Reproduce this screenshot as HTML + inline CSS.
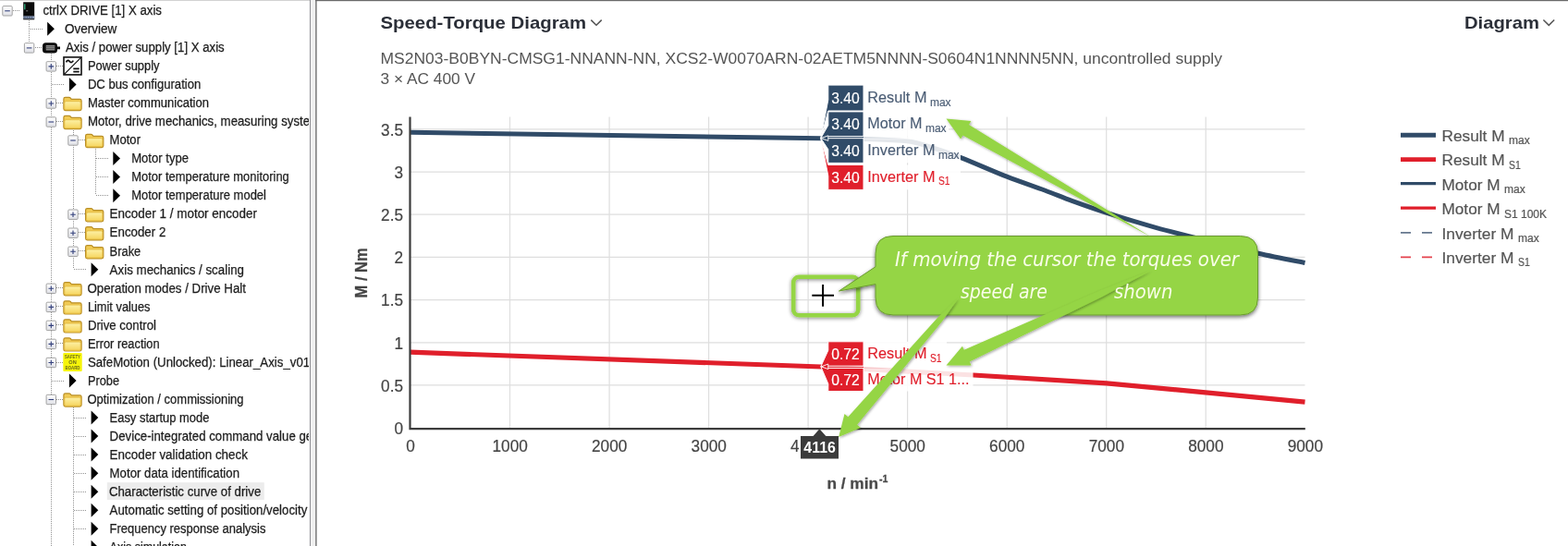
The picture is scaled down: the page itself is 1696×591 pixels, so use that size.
<!DOCTYPE html>
<html lang="en"><head><meta charset="utf-8"><title>Speed-Torque Diagram</title>
<style>
html,body{margin:0;padding:0;background:#fff}
body{width:1696px;height:591px;overflow:hidden;position:relative;font-family:"Liberation Sans",sans-serif}
svg{position:absolute;left:0;top:0;display:block}
text{font-family:"Liberation Sans",sans-serif}
.tr{font-size:14px;fill:#1c1c1c;stroke:#1c1c1c;stroke-width:.25px}
.dot{stroke:#939393;stroke-width:1;stroke-dasharray:1 1;fill:none;shape-rendering:crispEdges}
.tk{font-size:18.1px;fill:#444;stroke:#444;stroke-width:.2px}
.lg{font-size:17px;fill:#555;stroke:#555;stroke-width:.2px}
.sub,.lg.sub{font-size:12px}
.hw{font-family:"DejaVu Sans","Liberation Sans",sans-serif;font-style:italic;font-size:20.5px;fill:#f9fde8}
</style></head>
<body>
<svg width="1696" height="591" viewBox="0 0 1696 591">
<defs>
<linearGradient id="bx" x1="0" y1="0" x2="0" y2="1"><stop offset="0" stop-color="#fff"/><stop offset="1" stop-color="#dfe0e6"/></linearGradient>
<linearGradient id="fo" x1="0" y1="0" x2="0" y2="1"><stop offset="0" stop-color="#fdf1a6"/><stop offset="1" stop-color="#f6d55e"/></linearGradient>
<g id="plus"><rect x="-5.2" y="-5.2" width="10.4" height="10.4" rx="1" fill="url(#bx)" stroke="#a2a2a2" stroke-width="1"/><path d="M-2.8 0H2.8M0 -2.8V2.8" stroke="#33407c" stroke-width="1.1"/></g>
<g id="minus"><rect x="-5.2" y="-5.2" width="10.4" height="10.4" rx="1" fill="url(#bx)" stroke="#a2a2a2" stroke-width="1"/><path d="M-2.8 0H2.8" stroke="#33407c" stroke-width="1.1"/></g>
<path id="arw" d="M-3.8 -7.5L3.9 0L-3.8 7.5Z" fill="#000"/>
<g id="fold"><path d="M-9.6 -3.6V-5Q-9.6 -6.6 -7.8 -6.6H-4Q-2.7 -6.6 -2 -5.7L-1.3 -4.6H7.8Q9.6 -4.6 9.6 -2.9V5.8Q9.6 7.6 7.8 7.6H-7.8Q-9.6 7.6 -9.6 5.8Z" fill="#f1cb55" stroke="#b98e24" stroke-width="1.2"/><path d="M-8.7 -0.8Q-8.7 -2.3 -7.2 -2.3H7.2Q8.7 -2.3 8.7 -0.8V5.3Q8.7 6.8 7.2 6.8H-7.2Q-8.7 6.8 -8.7 5.3Z" fill="url(#fo)" stroke="#e2b93f" stroke-width="0.8"/></g>
<clipPath id="tclip"><rect x="0" y="0" width="334" height="591"/></clipPath>
<clipPath id="pclip"><rect x="440" y="120" width="973" height="346"/></clipPath>
<filter id="sh3" x="-20%" y="-30%" width="140%" height="160%"><feGaussianBlur in="SourceAlpha" stdDeviation="2.2"/><feOffset dx="0" dy="0.6"/><feComponentTransfer><feFuncA type="linear" slope="0.5"/></feComponentTransfer><feMerge><feMergeNode/><feMergeNode in="SourceGraphic"/></feMerge></filter>
<filter id="sh2" x="-20%" y="-20%" width="140%" height="150%"><feGaussianBlur in="SourceAlpha" stdDeviation="1.6"/><feOffset dx="0.5" dy="1.2"/><feComponentTransfer><feFuncA type="linear" slope="0.38"/></feComponentTransfer><feMerge><feMergeNode/><feMergeNode in="SourceGraphic"/></feMerge></filter>
<filter id="sh" x="-20%" y="-20%" width="140%" height="150%"><feGaussianBlur in="SourceAlpha" stdDeviation="2"/><feOffset dx="0" dy="1.5"/><feComponentTransfer><feFuncA type="linear" slope="0.55"/></feComponentTransfer><feMerge><feMergeNode/><feMergeNode in="SourceGraphic"/></feMerge></filter>
</defs>

<g id="tree" clip-path="url(#tclip)">
<path class="dot" d="M31.5 22V46"/>
<path class="dot" d="M55.5 58V591"/>
<path class="dot" d="M79.5 141V291"/>
<path class="dot" d="M103.5 161V211"/>
<path class="dot" d="M79.5 441V591"/>
<path class="dot" d="M14 11.3H21"/>
<path class="dot" d="M32.6 31.3H45.6"/>
<path class="dot" d="M37.6 51.4H44.6"/>
<path class="dot" d="M61.3 71.4H68.3"/>
<path class="dot" d="M56.3 91.4H69.3"/>
<path class="dot" d="M61.3 111.5H68.3"/>
<path class="dot" d="M61.3 131.5H68.3"/>
<path class="dot" d="M85 151.5H92"/>
<path class="dot" d="M103.7 171.6H116.7"/>
<path class="dot" d="M103.7 191.6H116.7"/>
<path class="dot" d="M103.7 211.7H116.7"/>
<path class="dot" d="M85 231.7H92"/>
<path class="dot" d="M85 251.7H92"/>
<path class="dot" d="M85 271.8H92"/>
<path class="dot" d="M80 291.8H93"/>
<path class="dot" d="M61.3 311.8H68.3"/>
<path class="dot" d="M61.3 331.9H68.3"/>
<path class="dot" d="M61.3 351.9H68.3"/>
<path class="dot" d="M61.3 371.9H68.3"/>
<path class="dot" d="M61.3 392.0H68.3"/>
<path class="dot" d="M56.3 412.0H69.3"/>
<path class="dot" d="M61.3 432.0H68.3"/>
<path class="dot" d="M80 452.1H93"/>
<path class="dot" d="M80 472.1H93"/>
<path class="dot" d="M80 492.1H93"/>
<path class="dot" d="M80 512.2H93"/>
<path class="dot" d="M80 532.2H93"/>
<path class="dot" d="M80 552.2H93"/>
<path class="dot" d="M80 572.3H93"/>
<path class="dot" d="M80 592.3H93"/>
<rect x="115.8" y="522.2" width="170" height="18.8" fill="#ececec"/>
<use href="#minus" x="8.0" y="11.8"/>
<g transform="translate(25.2,2.3000000000000007)"><rect x="0" y="0" width="12" height="19" fill="#0b0b0b"/><rect x="1" y="2" width="1.2" height="6" fill="#35c08a"/><rect x="3" y="9" width="2" height="1" fill="#8a8a8a"/><rect x="0" y="15" width="12" height="3" fill="#8c9bb5"/><path d="M1 16.5H11" stroke="#2a3a60" stroke-width="1" stroke-dasharray="1.5 1"/></g>
<text class="tr" x="46.4" y="16.0" textLength="128.6" lengthAdjust="spacingAndGlyphs">ctrlX DRIVE [1] X axis</text>
<use href="#arw" x="55.0" y="31.3"/>
<text class="tr" x="69.9" y="36.0" textLength="56.4" lengthAdjust="spacingAndGlyphs">Overview</text>
<use href="#minus" x="31.6" y="51.9"/>
<g transform="translate(55.3,51.9)"><rect x="-9.3" y="-5.7" width="16" height="11.4" rx="3.6" fill="#0a0a0a"/><rect x="-5.6" y="-3" width="9.6" height="5.6" fill="#8c8c8c"/><path d="M-5.6 -1.2H4M-5.6 0.7H4" stroke="#4a4a4a" stroke-width="0.8"/><rect x="6.5" y="-1.4" width="3.2" height="2.8" fill="#0a0a0a"/></g>
<text class="tr" x="70.9" y="56.1" textLength="171.8" lengthAdjust="spacingAndGlyphs">Axis / power supply [1] X axis</text>
<use href="#plus" x="55.3" y="71.9"/>
<g transform="translate(78.5,71.4)"><rect x="-9.5" y="-9.5" width="19" height="19" fill="#fff" stroke="#111" stroke-width="1.6"/><path d="M-9 9L9 -9" stroke="#111" stroke-width="1.3"/><path d="M-7 -4Q-5.2 -7.6 -3.2 -5T0.8 -5.8" stroke="#111" stroke-width="1.7" fill="none"/><path d="M0.8 3H7.2M0.8 6.2H7.2" stroke="#111" stroke-width="1.9"/></g>
<text class="tr" x="94.9" y="76.1" textLength="77.7" lengthAdjust="spacingAndGlyphs">Power supply</text>
<use href="#arw" x="78.7" y="91.4"/>
<text class="tr" x="94.9" y="96.1" textLength="122.4" lengthAdjust="spacingAndGlyphs">DC bus configuration</text>
<use href="#plus" x="55.3" y="112.0"/>
<use href="#fold" x="78.5" y="112.0"/>
<text class="tr" x="94.9" y="116.2" textLength="131.1" lengthAdjust="spacingAndGlyphs">Master communication</text>
<use href="#minus" x="55.3" y="132.0"/>
<use href="#fold" x="78.5" y="132.0"/>
<text class="tr" x="94.9" y="136.2" transform="translate(95.5 0) scale(0.948 1) translate(-95.5 0)">Motor, drive mechanics, measuring systems</text>
<use href="#minus" x="79.0" y="152.0"/>
<use href="#fold" x="102.2" y="152.0"/>
<text class="tr" x="118.6" y="156.2" textLength="33.4" lengthAdjust="spacingAndGlyphs">Motor</text>
<use href="#arw" x="126.1" y="171.6"/>
<text class="tr" x="142.2" y="176.3" textLength="61.8" lengthAdjust="spacingAndGlyphs">Motor type</text>
<use href="#arw" x="126.1" y="191.6"/>
<text class="tr" x="142.2" y="196.3" textLength="170.6" lengthAdjust="spacingAndGlyphs">Motor temperature monitoring</text>
<use href="#arw" x="126.1" y="211.7"/>
<text class="tr" x="142.2" y="216.3" textLength="145.8" lengthAdjust="spacingAndGlyphs">Motor temperature model</text>
<use href="#plus" x="79.0" y="232.2"/>
<use href="#fold" x="102.2" y="232.2"/>
<text class="tr" x="118.6" y="236.4" textLength="159.4" lengthAdjust="spacingAndGlyphs">Encoder 1 / motor encoder</text>
<use href="#plus" x="79.0" y="252.2"/>
<use href="#fold" x="102.2" y="252.2"/>
<text class="tr" x="118.6" y="256.4" textLength="60.7" lengthAdjust="spacingAndGlyphs">Encoder 2</text>
<use href="#plus" x="79.0" y="272.3"/>
<use href="#fold" x="102.2" y="272.3"/>
<text class="tr" x="118.6" y="276.5" textLength="33.7" lengthAdjust="spacingAndGlyphs">Brake</text>
<use href="#arw" x="102.4" y="291.8"/>
<text class="tr" x="118.6" y="296.5" textLength="145.4" lengthAdjust="spacingAndGlyphs">Axis mechanics / scaling</text>
<use href="#plus" x="55.3" y="312.3"/>
<use href="#fold" x="78.5" y="312.3"/>
<text class="tr" x="94.4" y="316.5" textLength="171.6" lengthAdjust="spacingAndGlyphs">Operation modes / Drive Halt</text>
<use href="#plus" x="55.3" y="332.4"/>
<use href="#fold" x="78.5" y="332.4"/>
<text class="tr" x="94.9" y="336.6" textLength="67.6" lengthAdjust="spacingAndGlyphs">Limit values</text>
<use href="#plus" x="55.3" y="352.4"/>
<use href="#fold" x="78.5" y="352.4"/>
<text class="tr" x="94.9" y="356.6" textLength="74.1" lengthAdjust="spacingAndGlyphs">Drive control</text>
<use href="#plus" x="55.3" y="372.4"/>
<use href="#fold" x="78.5" y="372.4"/>
<text class="tr" x="94.9" y="376.6" textLength="77.7" lengthAdjust="spacingAndGlyphs">Error reaction</text>
<use href="#plus" x="55.3" y="392.5"/>
<g transform="translate(78.5,392.0)"><rect x="-10.2" y="-10" width="20.4" height="20" rx="1" fill="#f6f50a"/><text x="0" y="-3.8" text-anchor="middle" font-size="5.6" font-weight="bold" fill="#6b6b1a" textLength="17" lengthAdjust="spacingAndGlyphs">SAFETY</text><text x="0" y="2" text-anchor="middle" font-size="5.6" font-weight="bold" fill="#6b6b1a">ON</text><text x="0" y="8" text-anchor="middle" font-size="5.6" font-weight="bold" fill="#6b6b1a" textLength="16" lengthAdjust="spacingAndGlyphs">BOARD</text></g>
<text class="tr" x="94.9" y="396.7" textLength="240.3" lengthAdjust="spacingAndGlyphs">SafeMotion (Unlocked): Linear_Axis_v01</text>
<use href="#arw" x="78.7" y="412.0"/>
<text class="tr" x="94.9" y="416.7" textLength="34.1" lengthAdjust="spacingAndGlyphs">Probe</text>
<use href="#minus" x="55.3" y="432.5"/>
<use href="#fold" x="78.5" y="432.5"/>
<text class="tr" x="94.4" y="436.7" textLength="169.2" lengthAdjust="spacingAndGlyphs">Optimization / commissioning</text>
<use href="#arw" x="102.4" y="452.1"/>
<text class="tr" x="118.6" y="456.8" textLength="107.8" lengthAdjust="spacingAndGlyphs">Easy startup mode</text>
<use href="#arw" x="102.4" y="472.1"/>
<text class="tr" x="118.6" y="476.8" transform="translate(119.2 0) scale(0.948 1) translate(-119.2 0)">Device-integrated command value generator</text>
<use href="#arw" x="102.4" y="492.1"/>
<text class="tr" x="118.6" y="496.8" textLength="149.4" lengthAdjust="spacingAndGlyphs">Encoder validation check</text>
<use href="#arw" x="102.4" y="512.2"/>
<text class="tr" x="118.6" y="516.9" textLength="140.4" lengthAdjust="spacingAndGlyphs">Motor data identification</text>
<use href="#arw" x="102.4" y="532.2"/>
<text class="tr" x="117.9" y="536.9" textLength="164.4" lengthAdjust="spacingAndGlyphs">Characteristic curve of drive</text>
<use href="#arw" x="102.4" y="552.2"/>
<text class="tr" x="118.6" y="556.9" transform="translate(119.2 0) scale(0.948 1) translate(-119.2 0)">Automatic setting of position/velocity control</text>
<use href="#arw" x="102.4" y="572.3"/>
<text class="tr" x="118.6" y="577.0" textLength="168.8" lengthAdjust="spacingAndGlyphs">Frequency response analysis</text>
<use href="#arw" x="102.4" y="592.3"/>
<text class="tr" x="118.6" y="597.0" textLength="83.4" lengthAdjust="spacingAndGlyphs">Axis simulation</text>
</g>
<rect x="0" y="0" width="335" height="1" fill="#d2d2d2"/>
<rect x="335" y="0" width="1" height="591" fill="#8e8e93"/>
<rect x="336" y="0" width="5" height="591" fill="#f0f0f0"/>
<rect x="341.2" y="0" width="1.4" height="591" fill="#6e6e6e"/>
<rect x="341" y="0" width="1355" height="1.2" fill="#6a6a6a"/>
<g id="chart">
<text x="411.5" y="31.4" font-size="18.5" font-weight="bold" fill="#2b2f38" textLength="222.5" lengthAdjust="spacingAndGlyphs">Speed-Torque Diagram</text>
<path d="M639.3 21.6L645 27.3L650.7 21.6" fill="none" stroke="#555" stroke-width="1.5"/>
<text x="1584" y="31.2" font-size="18.5" font-weight="bold" fill="#2b2f38" textLength="81" lengthAdjust="spacingAndGlyphs">Diagram</text>
<path d="M1669.4 21.5L1675.3 27.4L1681.2 21.5" fill="none" stroke="#555" stroke-width="1.5"/>
<text x="411.5" y="68.7" font-size="17.2" fill="#555" textLength="910.5" lengthAdjust="spacingAndGlyphs">MS2N03-B0BYN-CMSG1-NNANN-NN, XCS2-W0070ARN-02AETM5NNNN-S0604N1NNNN5NN, uncontrolled supply</text>
<text x="411.5" y="91" font-size="17.2" fill="#555" textLength="102.5" lengthAdjust="spacingAndGlyphs">3 × AC 400 V</text>
<path d="M551.5 126.5V463.5M659.1 126.5V463.5M766.6 126.5V463.5M874.1 126.5V463.5M981.6 126.5V463.5M1089.2 126.5V463.5M1196.7 126.5V463.5M1304.2 126.5V463.5M443.5 416.9H1411.5M443.5 370.8H1411.5M443.5 324.6H1411.5M443.5 278.4H1411.5M443.5 232.2H1411.5M443.5 186.1H1411.5M443.5 139.9H1411.5" stroke="#dedede" stroke-width="1.2" fill="none"/>
<text class="tk" x="426.4" y="469.8" textLength="9.6" lengthAdjust="spacingAndGlyphs">0</text>
<text class="tk" x="412.1" y="423.6" textLength="23.9" lengthAdjust="spacingAndGlyphs">0.5</text>
<text class="tk" x="426.4" y="377.5" textLength="9.6" lengthAdjust="spacingAndGlyphs">1</text>
<text class="tk" x="412.1" y="331.3" textLength="23.9" lengthAdjust="spacingAndGlyphs">1.5</text>
<text class="tk" x="426.4" y="285.1" textLength="9.6" lengthAdjust="spacingAndGlyphs">2</text>
<text class="tk" x="412.1" y="238.9" textLength="23.9" lengthAdjust="spacingAndGlyphs">2.5</text>
<text class="tk" x="426.4" y="192.8" textLength="9.6" lengthAdjust="spacingAndGlyphs">3</text>
<text class="tk" x="412.1" y="146.6" textLength="23.9" lengthAdjust="spacingAndGlyphs">3.5</text>
<text class="tk" x="439.3" y="488.8" textLength="9.6" lengthAdjust="spacingAndGlyphs">0</text>
<text class="tk" x="532.5" y="488.8" textLength="38.3" lengthAdjust="spacingAndGlyphs">1000</text>
<text class="tk" x="640.0" y="488.8" textLength="38.3" lengthAdjust="spacingAndGlyphs">2000</text>
<text class="tk" x="747.6" y="488.8" textLength="38.3" lengthAdjust="spacingAndGlyphs">3000</text>
<text class="tk" x="855.1" y="488.8" textLength="38.3" lengthAdjust="spacingAndGlyphs">4000</text>
<text class="tk" x="962.6" y="488.8" textLength="38.3" lengthAdjust="spacingAndGlyphs">5000</text>
<text class="tk" x="1070.1" y="488.8" textLength="38.3" lengthAdjust="spacingAndGlyphs">6000</text>
<text class="tk" x="1177.7" y="488.8" textLength="38.3" lengthAdjust="spacingAndGlyphs">7000</text>
<text class="tk" x="1285.2" y="488.8" textLength="38.3" lengthAdjust="spacingAndGlyphs">8000</text>
<text class="tk" x="1392.7" y="488.8" textLength="38.3" lengthAdjust="spacingAndGlyphs">9000</text>
<text transform="translate(397.2 322.4) rotate(-90)" font-size="17.5" font-weight="bold" fill="#444" stroke="#444" stroke-width="0.3" textLength="54" lengthAdjust="spacingAndGlyphs">M / Nm</text>
<text x="894.4" y="528.6" font-size="17" font-weight="bold" fill="#4a4a4a" stroke="#4a4a4a" stroke-width="0.3" textLength="55.6" lengthAdjust="spacingAndGlyphs">n / min</text>
<text x="950.9" y="522" font-size="11" font-weight="bold" fill="#4a4a4a" stroke="#4a4a4a" stroke-width="0.3" textLength="9.4" lengthAdjust="spacingAndGlyphs">-1</text>
<path d="M443.5 381.2L888 397L1052.8 406L1197 414.8L1304 424.8L1411.5 435.2" fill="none" stroke="#e01f2b" stroke-width="5.2"/>
<path d="M443.5 143.3L888 149.7C895.7 149.8 918.5 149.9 934.0 150.4C949.5 150.9 968.3 151.2 981.0 152.8C993.7 154.5 1000.2 157.3 1010.0 160.3C1019.8 163.3 1026.8 165.7 1040.0 170.8C1053.2 176.0 1074.0 185.3 1089.0 191.2C1104.0 197.1 1118.2 201.6 1130.0 206.0C1141.8 210.4 1148.8 213.5 1160.0 217.6C1171.2 221.7 1181.8 225.6 1197.0 230.4C1212.2 235.2 1233.2 241.6 1251.0 246.6C1268.8 251.6 1285.7 255.6 1304.0 260.2C1322.3 264.8 1343.1 270.1 1361.0 274.2C1378.9 278.2 1403.1 282.8 1411.5 284.5" fill="none" stroke="#304b68" stroke-width="5"/>
<path d="M443.5 126.5V465.3M442.4 464.2H1411.8" fill="none" stroke="#3c3c3c" stroke-width="2.2"/>
<path d="M1515 146.3H1553" stroke="#304b68" stroke-width="5" fill="none"/>
<text class="lg" x="1559.5" y="152.6" textLength="68.0" lengthAdjust="spacingAndGlyphs">Result M</text>
<text class="lg sub" x="1632.0" y="156.1">max</text>
<path d="M1515 172.6H1553" stroke="#e01f2b" stroke-width="4.8" fill="none"/>
<text class="lg" x="1559.5" y="179.0" textLength="68.0" lengthAdjust="spacingAndGlyphs">Result M</text>
<text class="lg sub" x="1632.0" y="182.5" textLength="12.8" lengthAdjust="spacingAndGlyphs">S1</text>
<path d="M1515 198.6H1553" stroke="#304b68" stroke-width="3.2" fill="none"/>
<text class="lg" x="1559.5" y="205.6" textLength="63.0" lengthAdjust="spacingAndGlyphs">Motor M</text>
<text class="lg sub" x="1627.0" y="209.1">max</text>
<path d="M1515 225.2H1553" stroke="#e01f2b" stroke-width="3.2" fill="none"/>
<text class="lg" x="1559.5" y="232.2" textLength="63.0" lengthAdjust="spacingAndGlyphs">Motor M</text>
<text class="lg sub" x="1627.0" y="235.7">S1 100K</text>
<path d="M1515 251.9H1553" stroke="#66788f" stroke-width="1.6" stroke-dasharray="11 12" fill="none"/>
<text class="lg" x="1559.5" y="258.5" textLength="78.0" lengthAdjust="spacingAndGlyphs">Inverter M</text>
<text class="lg sub" x="1642.0" y="262.0">max</text>
<path d="M1515 278.4H1553" stroke="#e4434e" stroke-width="1.6" stroke-dasharray="11 12" fill="none"/>
<text class="lg" x="1559.5" y="284.5" textLength="78.0" lengthAdjust="spacingAndGlyphs">Inverter M</text>
<text class="lg sub" x="1642.0" y="288.0" textLength="12.8" lengthAdjust="spacingAndGlyphs">S1</text>
</g>
<g id="tips">
<rect x="934" y="147.4" width="92" height="3" fill="#fff" fill-opacity="0.8"/>
<rect x="934" y="396.4" width="90" height="2.2" fill="#fff" fill-opacity="0.8"/>
<rect x="934" y="92.1" width="98" height="27.9" fill="#fff" fill-opacity="0.87"/>
<path d="M895.8 92.1H934V120.0H895.8V120.0L887.8 149.6L895.8 108.0Z" fill="#304b68" stroke="#fff" stroke-width="1" stroke-linejoin="round"/>
<text x="914.5" y="111.6" font-size="16.3" fill="#fff" stroke="#fff" stroke-width="0.15" text-anchor="middle" textLength="30.6" lengthAdjust="spacingAndGlyphs">3.40</text>
<text x="938.2" y="111.0" font-size="16.5" fill="#4b5d75" stroke="#4b5d75" stroke-width="0.15" textLength="64.3" lengthAdjust="spacingAndGlyphs">Result M</text>
<text class="sub" x="1005.9" y="114.5" fill="#4b5d75" stroke="#4b5d75" stroke-width="0.15">max</text>
<rect x="934" y="178.5" width="105" height="26.9" fill="#fff" fill-opacity="0.87"/>
<path d="M895.8 178.5H934V205.4H895.8V190.5L887.8 149.6L895.8 178.5Z" fill="#e01f2b" stroke="#fff" stroke-width="1" stroke-linejoin="round"/>
<text x="914.5" y="197.5" font-size="16.3" fill="#fff" stroke="#fff" stroke-width="0.15" text-anchor="middle" textLength="30.6" lengthAdjust="spacingAndGlyphs">3.40</text>
<text x="938.2" y="196.8" font-size="16.5" fill="#e01f2b" stroke="#e01f2b" stroke-width="0.15" textLength="73.3" lengthAdjust="spacingAndGlyphs">Inverter M</text>
<text class="sub" x="1014.9" y="200.4" fill="#e01f2b" stroke="#e01f2b" stroke-width="0.15" textLength="12.6" lengthAdjust="spacingAndGlyphs">S1</text>
<rect x="934" y="120.9" width="92" height="26.7" fill="#fff" fill-opacity="0.87"/>
<path d="M895.8 120.9H934V147.6H895.8V147.6L887.8 149.6L895.8 135.6Z" fill="#304b68" stroke="#fff" stroke-width="1" stroke-linejoin="round"/>
<text x="914.5" y="139.8" font-size="16.3" fill="#fff" stroke="#fff" stroke-width="0.15" text-anchor="middle" textLength="30.6" lengthAdjust="spacingAndGlyphs">3.40</text>
<text x="938.2" y="139.2" font-size="16.5" fill="#4b5d75" stroke="#4b5d75" stroke-width="0.15" textLength="59.3" lengthAdjust="spacingAndGlyphs">Motor M</text>
<text class="sub" x="1000.9" y="142.8" fill="#4b5d75" stroke="#4b5d75" stroke-width="0.15">max</text>
<rect x="934" y="149.7" width="105" height="26.7" fill="#fff" fill-opacity="0.87"/>
<path d="M895.8 149.7H934V176.4H895.8V161.7L887.8 149.6L895.8 149.7Z" fill="#304b68" stroke="#fff" stroke-width="1" stroke-linejoin="round"/>
<text x="914.5" y="168.7" font-size="16.3" fill="#fff" stroke="#fff" stroke-width="0.15" text-anchor="middle" textLength="30.6" lengthAdjust="spacingAndGlyphs">3.40</text>
<text x="938.2" y="168.0" font-size="16.5" fill="#4b5d75" stroke="#4b5d75" stroke-width="0.15" textLength="73.3" lengthAdjust="spacingAndGlyphs">Inverter M</text>
<text class="sub" x="1014.9" y="171.6" fill="#4b5d75" stroke="#4b5d75" stroke-width="0.15">max</text>
<rect x="934" y="369.8" width="90" height="26.4" fill="#fff" fill-opacity="0.87"/>
<path d="M895.8 369.8H934V396.2H895.8V396.2L887.8 396.8L895.8 379.2Z" fill="#e01f2b" stroke="#fff" stroke-width="1" stroke-linejoin="round"/>
<text x="914.5" y="388.6" font-size="16.3" fill="#fff" stroke="#fff" stroke-width="0.15" text-anchor="middle" textLength="30.6" lengthAdjust="spacingAndGlyphs">0.72</text>
<text x="938.2" y="387.9" font-size="16.5" fill="#e01f2b" stroke="#e01f2b" stroke-width="0.15" textLength="64.3" lengthAdjust="spacingAndGlyphs">Result M</text>
<text class="sub" x="1005.9" y="391.5" fill="#e01f2b" stroke="#e01f2b" stroke-width="0.15" textLength="12.6" lengthAdjust="spacingAndGlyphs">S1</text>
<rect x="934" y="398.4" width="118.5" height="25.1" fill="#fff" fill-opacity="0.87"/>
<path d="M895.8 398.4H934V423.5H895.8V415.4L887.8 396.8L895.8 398.4Z" fill="#e01f2b" stroke="#fff" stroke-width="1" stroke-linejoin="round"/>
<text x="914.5" y="416.6" font-size="16.3" fill="#fff" stroke="#fff" stroke-width="0.15" text-anchor="middle" textLength="30.6" lengthAdjust="spacingAndGlyphs">0.72</text>
<text x="938.2" y="416.2" font-size="16.5" fill="#e01f2b" stroke="#e01f2b" stroke-width="0.15" textLength="110.3" lengthAdjust="spacingAndGlyphs">Motor M S1 1...</text>
<path d="M888.4 149.6L895.8 146.79999999999998V152.4Z" fill="#304b68" stroke="#fff" stroke-width="0.9" stroke-linejoin="round"/>
<path d="M888.4 396.8L895.8 394.0V399.6Z" fill="#e01f2b" stroke="#fff" stroke-width="0.9" stroke-linejoin="round"/>
<rect x="864.3" y="473" width="3" height="22" fill="#fff"/>
<path d="M866 472H879.6L886.4 464.2L893.3 472H907V496.4H866Z" fill="#3b3b3b"/>
<text x="886.6" y="490.3" font-size="16" font-weight="bold" fill="#fff" text-anchor="middle" textLength="34.5" lengthAdjust="spacingAndGlyphs">4116</text>
</g>
<g id="anno">
<rect x="858.2" y="299.8" width="70" height="41.4" rx="6" fill="none" stroke="#95d544" stroke-width="4.6" filter="url(#sh3)"/>
<path d="M878.3 319.8H902M890.1 308V331.8" stroke="#000" stroke-width="2" fill="none"/>
<path d="M966 255.5H1341.5Q1360.5 255.5 1360.5 274.5V322Q1360.5 341 1341.5 341H966Q947 341 947 322V307.6L907.5 315L947 288.7V274.5Q947 255.5 966 255.5Z" fill="#95d544" stroke="#6a9a30" stroke-width="1" filter="url(#sh)"/>
<path d="M1023.5 128.5L1039.1 150.5L1041.4 146.5L1245.0 256.5L1048.0 135.0L1050.4 131.0Z" fill="#95d544" filter="url(#sh2)"/>
<path d="M1023.5 395.5L1050.6 395.6L1048.7 391.5L1192.1 321.3L1245.0 292.8L1189.1 314.8L1042.8 378.8L1040.9 374.8Z" fill="#95d544" filter="url(#sh2)"/>
<path d="M907.2 473.0L930.9 463.1L927.1 459.8L1019.4 347.4L1036.6 322.6L1014.7 343.3L917.3 451.3L913.5 448.1Z" fill="#95d544" filter="url(#sh2)"/>
<text class="hw" x="968" y="288.2" textLength="372" lengthAdjust="spacingAndGlyphs">If moving the cursor the torques over</text>
<text class="hw" x="1039" y="323.3" textLength="94" lengthAdjust="spacingAndGlyphs">speed are</text>
<text class="hw" x="1205" y="323.3" textLength="63.5" lengthAdjust="spacingAndGlyphs">shown</text>
</g>
</svg>
</body></html>
